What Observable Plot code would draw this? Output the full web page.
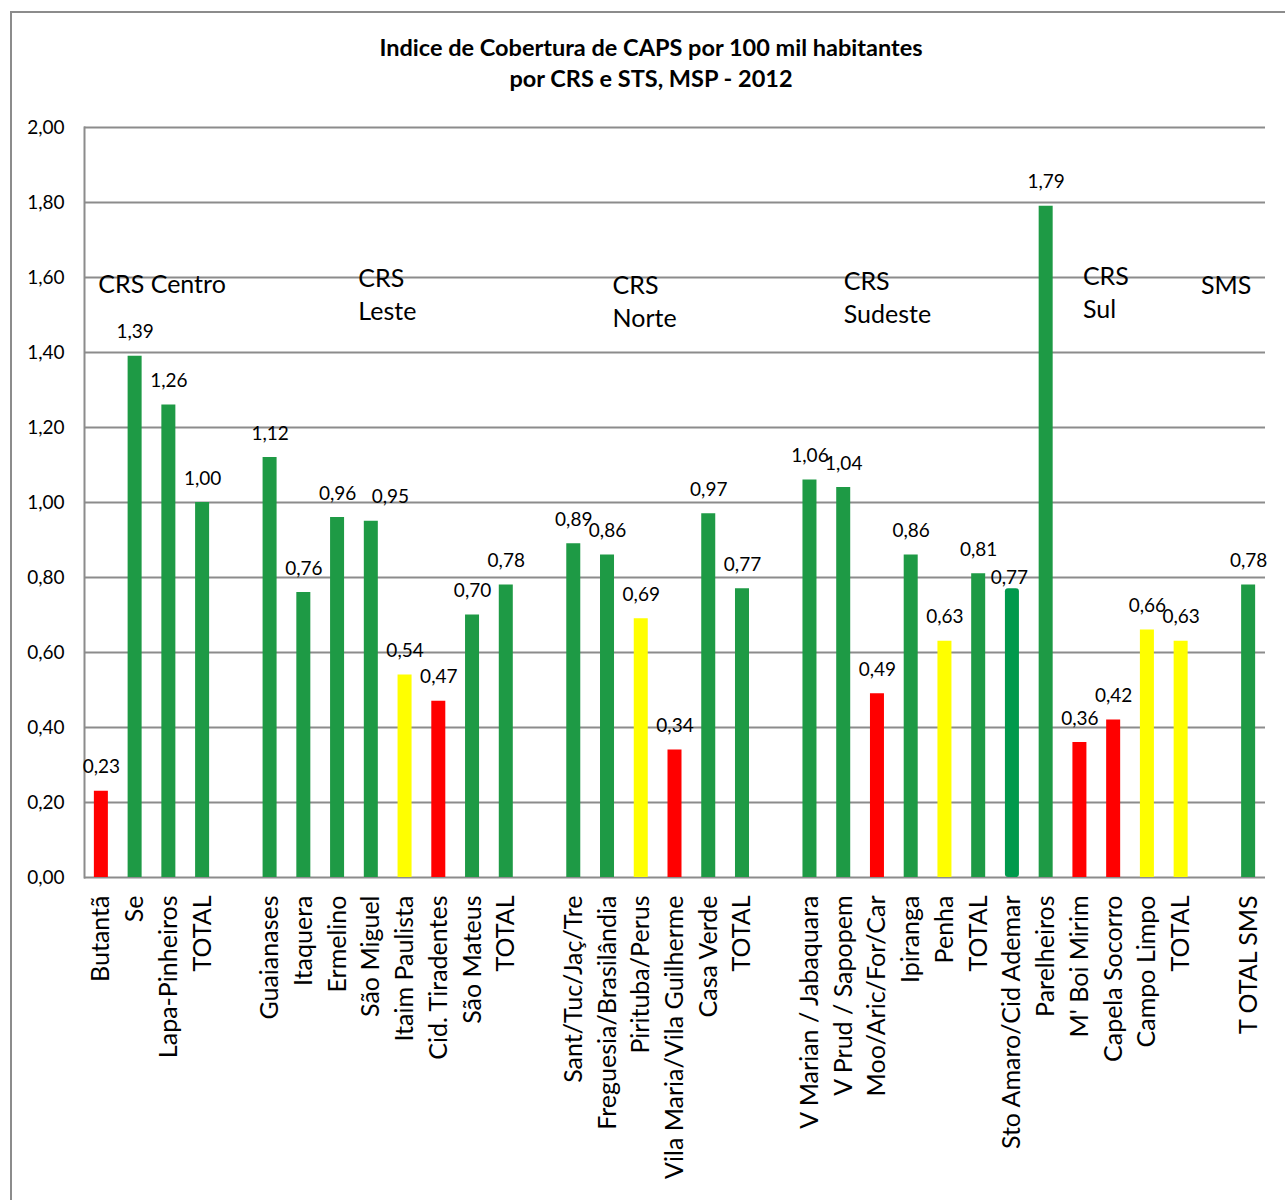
<!DOCTYPE html>
<html>
<head>
<meta charset="utf-8">
<script src="https://cdn.jsdelivr.net/npm/d3@7"></script>
<script src="https://cdn.jsdelivr.net/npm/@observablehq/plot@0.6"></script>
<style>
  html, body { margin: 0; padding: 0; overflow: hidden; background: #fff; width: 1285px; height: 1200px; }
  #frame { position: absolute; left: 10px; top: 11px; width: 1300px; height: 1260px; border: 2px solid #8c8c8c; box-sizing: border-box; }
  #title { position: absolute; left: 10px; width: 1282px; top: 32px; text-align: center; font-family: Lato, "Open Sans", sans-serif; font-weight: bold; font-size: 23.5px; line-height: 31px; color: #000; }
  #chart { position: absolute; left: 0; top: 0; }
</style>
</head>
<body>
<div id="frame"></div>
<div id="title">Indice de Cobertura de CAPS por 100 mil habitantes<br>por CRS e STS, MSP - 2012</div>
<div id="chart"></div>
<script>
// Category labels ("" = empty spacer category between groups)
const labels = [
  "Butantã", "Se", "Lapa-Pinheiros", "TOTAL", "",
  "Guaianases", "Itaquera", "Ermelino", "São Miguel", "Itaim Paulista", "Cid. Tiradentes", "São Mateus", "TOTAL", "",
  "Sant/Tuc/Jaç/Tre", "Freguesia/Brasilândia", "Pirituba/Perus", "Vila Maria/Vila Guilherme", "Casa Verde", "TOTAL", "",
  "V Marian / Jabaquara", "V Prud / Sapopem", "Moo/Aric/For/Car", "Ipiranga", "Penha", "TOTAL",
  "Sto Amaro/Cid Ademar", "Parelheiros", "M' Boi Mirim", "Capela Socorro", "Campo Limpo", "TOTAL", "",
  "T OTAL SMS"
];
// Index values (null for spacers)
const values = [
  0.23, 1.39, 1.26, 1.00, null,
  1.12, 0.76, 0.96, 0.95, 0.54, 0.47, 0.70, 0.78, null,
  0.89, 0.86, 0.69, 0.34, 0.97, 0.77, null,
  1.06, 1.04, 0.49, 0.86, 0.63, 0.81,
  0.77, 1.79, 0.36, 0.42, 0.66, 0.63, null,
  0.78
];
// Status of each bar
const statuses = [
  "vermelho", "verde", "verde", "verde", null,
  "verde", "verde", "verde", "verde", "amarelo", "vermelho", "verde", "verde", null,
  "verde", "verde", "amarelo", "vermelho", "verde", "verde", null,
  "verde", "verde", "vermelho", "verde", "amarelo", "verde",
  "verde2", "verde", "vermelho", "vermelho", "amarelo", "amarelo", null,
  "verde"
];
// Group annotations: text, category index it sits over, height on value axis
const groupNames = ["CRS Centro", "CRS\nLeste", "CRS\nNorte", "CRS\nSudeste", "CRS\nSul", "SMS"];
const groupAt = [0, 8, 15, 22, 29, 33];
const groupLevel = [1.587, 1.56, 1.54, 1.55, 1.564, 1.584];
const yTicks = [0, 0.2, 0.4, 0.6, 0.8, 1.0, 1.2, 1.4, 1.6, 1.8, 2.0];

const fmt = v => d3.format(".2f")(v).replace(".", ",");
const data = labels.map((label, i) => ({key: i, label, value: values[i], status: statuses[i]}));
const groups = groupNames.map((name, i) => ({name, at: groupAt[i], level: groupLevel[i]}));

// style offsets (pixel nudges) for annotations
const groupDx = [-3, -13, 5, 0, 3, -14];
const labelDx = {8: 19, 27: -3};
const labelDy = {27: -11};

const font = "Lato, 'Open Sans', sans-serif";
const gray = "#8c8c8c";
const valueFont = 19;

const marks = [
  Plot.ruleY(yTicks, {stroke: gray, strokeWidth: 2}),
  Plot.frame({anchor: "left", stroke: gray, strokeWidth: 2}),
  Plot.axisY({ticks: yTicks, tickFormat: fmt, tickSize: 0, tickPadding: 20, fontSize: 19, fill: "#000"}),
  Plot.axisX({tickRotate: -90, tickSize: 0, tickPadding: 18, fontSize: 25, fill: "#000", tickFormat: i => labels[i]}),
  Plot.barY(data.filter(d => d.status !== "verde2"), {x: "key", y: "value", fill: "status"}),
  Plot.barY(data.filter(d => d.status === "verde2"), {x: "key", y: "value", fill: "status", rx: 3}),
  Plot.text(data.filter(d => d.value != null && labelDx[d.key] == null && labelDy[d.key] == null),
    {x: "key", y: "value", text: d => fmt(d.value), dy: -24, fontSize: valueFont, fill: "#000"}),
  ...data.filter(d => d.value != null && (labelDx[d.key] != null || labelDy[d.key] != null)).map(d =>
    Plot.text([d], {x: "key", y: "value", text: d => fmt(d.value), dx: labelDx[d.key] || 0, dy: labelDy[d.key] ?? -24, fontSize: valueFont, fill: "#000"})),
  ...groups.map((g, i) =>
    Plot.text([g], {x: "at", y: "level", text: "name", textAnchor: "start", lineHeight: 1.32, dx: groupDx[i], fontSize: 25, fill: "#000"}))
];

const chart = Plot.plot({
  width: 1285,
  height: 1200,
  marginTop: 127,
  marginBottom: 323,
  marginLeft: 84,
  marginRight: 20,
  style: {fontFamily: font, background: "transparent", overflow: "visible", color: "#000"},
  x: {type: "band", domain: d3.range(labels.length), paddingInner: 0.585, paddingOuter: 0.2925, round: false, label: null, axis: null},
  y: {domain: [0, 2], label: null, axis: null},
  color: {type: "ordinal", domain: ["verde", "verde2", "vermelho", "amarelo"], range: ["#1e9a45", "#00994c", "#ff0000", "#ffff00"]},
  marks
});
document.getElementById("chart").appendChild(chart);
</script>
</body>
</html>
